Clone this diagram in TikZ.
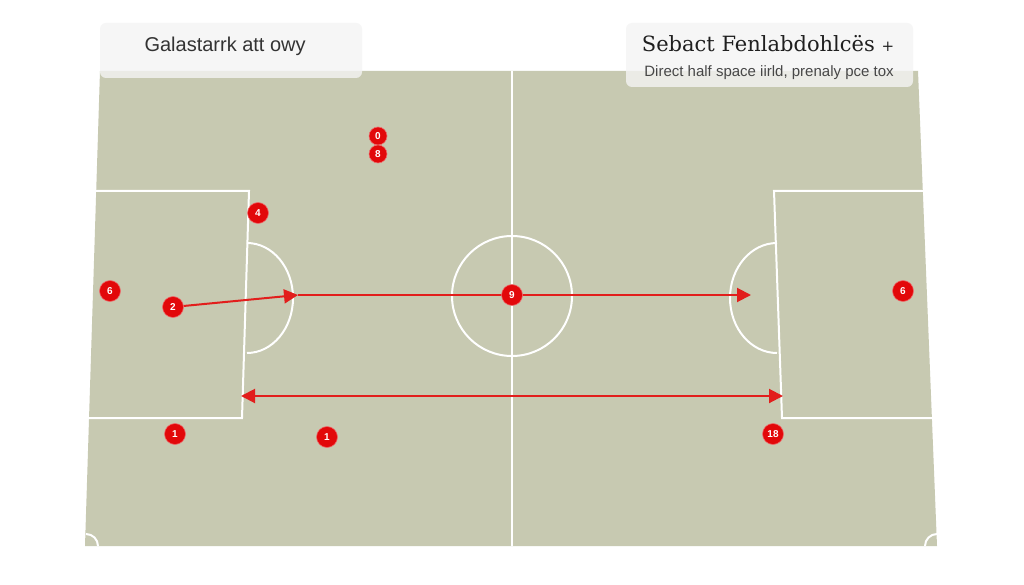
\documentclass[tikz,border=0pt]{standalone}
\usepackage{fontspec}
\setmainfont{Liberation Sans}
\newfontfamily\titleserif{DejaVu Serif}
\usetikzlibrary{arrows.meta}
\definecolor{pitch}{RGB}{199,201,177}
\definecolor{pred}{RGB}{226,8,10}
\definecolor{arrred}{RGB}{226,30,28}
\definecolor{boxfill}{RGB}{244,244,244}
\tikzset{
  pline/.style={draw=white,line width=2pt},
  player/.style={circle,fill=pred,draw=pred!60!white,line width=0.6pt,minimum size=21pt,inner sep=0pt,
    text=white,font=\bfseries\fontsize{10}{10}\selectfont},
  smallplayer/.style={player,minimum size=18pt},
  move/.style={draw=arrred,line width=2pt,-{Triangle[length=14pt,width=14pt]}},
  dmove/.style={draw=arrred,line width=2pt,{Triangle[length=14pt,width=14pt]}-{Triangle[length=14pt,width=14pt]}},
  titlebox/.style={fill=boxfill,fill opacity=0.8,rounded corners=6pt,draw=none}
}
\begin{document}
\begin{tikzpicture}[x=1pt,y=-1pt]
\useasboundingbox[fill=white] (0,0) rectangle (1024,585);
% pitch
\fill[pitch] (100,71) -- (918,71) -- (937,546) -- (85,546) -- cycle;
% halfway line
\draw[pline] (512,71) -- (512,546);
% center circle
\draw[pline] (512,296) circle[radius=60pt];
% penalty boxes
\draw[pline] (96.2,191) -- (249,191) -- (242,418) -- (89,418);
\draw[pline] (922.8,191) -- (774,191) -- (782,418) -- (931.9,418);
% penalty arcs
\draw[pline] (247,243) arc[start angle=90,end angle=-90,x radius=46pt,y radius=55pt];
\draw[pline] (777,243) arc[start angle=90,end angle=270,x radius=47pt,y radius=55pt];
% corner arcs
\draw[pline] (86,534) arc[start angle=90,end angle=0,radius=12pt];
\draw[pline] (925,546) arc[start angle=180,end angle=90,radius=12pt];
% title boxes
\path[titlebox] (100,23) rectangle (362,78);
\path[titlebox] (626,23) rectangle (913,87);
\node[anchor=west,text=black!80,font=\fontsize{20}{20}\selectfont] (lt) at (141,46) {Galastarrk att owy};
\node[text=black!88,font=\titleserif\fontsize{21}{21}\selectfont] (rt) at (768,44) {Sebact Fenlabdohlcës {\fontsize{15}{15}\selectfont +}};
\node[text=black!72,font=\fontsize{15}{15}\selectfont] (st) at (769,73) {Direct half space iirld, prenaly pce tox};
% coordinates for arrows
\coordinate (a1) at (298,295);
\coordinate (a2) at (751,295);
\coordinate (b1) at (241,396);
\coordinate (b2) at (783,396);
% players and moves
\node[player] (p2) at (173,307) {2};
\draw[move] (p2) -- (a1);
\draw[move] (a1) -- (a2);
\draw[dmove] (b1) -- (b2);
\node[smallplayer] (p0) at (378,136) {0};
\node[smallplayer] (p8) at (378,154) {8};
\node[player] (p4) at (258,213) {4};
\node[player] (p6a) at (110,291) {6};
\node[player] (p9) at (512,295) {9};
\node[player] (p6b) at (903,291) {6};
\node[player] (p1a) at (175,434) {1};
\node[player] (p1b) at (327,437) {1};
\node[player] (p18) at (773,434) {18};
\end{tikzpicture}
\end{document}
